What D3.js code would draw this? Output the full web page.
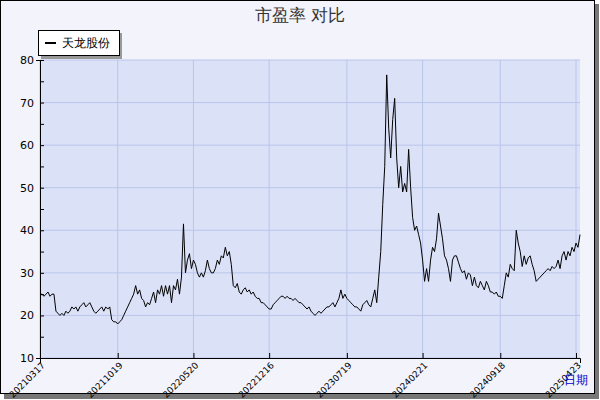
<!DOCTYPE html>
<html><head><meta charset="utf-8">
<script src="https://cdn.jsdelivr.net/npm/d3@7"></script>
<style>body{margin:0;background:#fff}text{font-family:"DejaVu Sans",sans-serif}</style>
</head><body>
<script>
var seriesName = "天龙股份";
var values = [
25,25,24.5,25,25.5,24.5,25,25,21,20.5,20,20.5,20,21,20.5,21,22,21.5,22,21,22,22.5,23,22,22.5,23,22,21,20.5,21,21.5,22,21,22,21.5,22,19,18.5,18.5,
18,18.5,19,20,21,22,23,24,25,27,25,26,24,23.5,22,23,22.5,24,25.5,23,26,25,27,24.5,27,25,27,23,27,26,28.5,25,29,41.5,30,33,34.5,31,33,
32,30,29,30,29,30.5,33,31,30,30,31,33,32,34,33.5,36,34,35,32,27,26.5,27.5,25.5,25,26,26.5,25.5,26,25,25.5,24.5,24,24,23,23,22.5,22,21.5,
21.5,22.5,23,23.5,24,24.5,24.5,24,24.5,24,24,23.5,24,23.5,23,23,22.5,22,21.5,22,21,20.5,20,20.5,21,20.5,21,21.5,22,22,22.5,23,22,23,24,26,24,25,24,
23.5,23,22.5,22,22,21.5,21,22.5,23,23.5,22.5,22,24,26,23,29,35,46,55,
76.5,64,57,66,71,57,50,55,49,51,49,59,50,43,40,41,39,37,33,28,31,28,33,36,35,38,44,41,38,34,33,31,28,33,34,34,32.5,31,30,30.5,28.5,30,29.5,27,29,27,26.5,28,27,26,28,27,25.5,25.5,25,25.5,24.5,24.5,24,27,30,29,32,31,30.5,40,37,35,31.5,34,32,33.5,34,32,30.5,28,28.5,29,29.5,30,30.5,31,30.5,31.5,31,31.5,33,31,34,35,33,35,34,36,35,37,36,39
];
var tickLabels = ["20210317","20211019","20220520","20221216","20230719","20240221","20240918","20250423"];
var tickIdx = [0,39,77,115,154,192,231,269];
var yTicks = [10,20,30,40,50,60,70,80];

var W = 600, H = 400, L = 40, R = 580, T = 60, B = 358;
var svg = d3.select("body").append("svg").attr("width", W).attr("height", H);
svg.append("rect").attr("x", 4).attr("y", 4).attr("width", 595).attr("height", 395).attr("fill", "#777");
svg.append("rect").attr("x", 0.5).attr("y", 0.5).attr("width", 594).attr("height", 393)
  .attr("fill", "#f2f3fb").attr("stroke", "#000");

var x = d3.scaleLinear().domain([0, values.length - 1]).range([L, R]);
var y = d3.scaleLinear().domain([10, 80]).range([B, T]);

svg.append("rect").attr("x", L).attr("y", T).attr("width", R - L).attr("height", B - T).attr("fill", "#dbe1f7");
svg.selectAll(".hg").data(yTicks).enter().append("line")
  .attr("x1", L).attr("x2", R).attr("y1", function(d){return y(d)}).attr("y2", function(d){return y(d)})
  .attr("stroke", "#b9c5ea");
svg.selectAll(".vg").data(tickIdx).enter().append("line")
  .attr("x1", function(d){return x(d)}).attr("x2", function(d){return x(d)}).attr("y1", T).attr("y2", B)
  .attr("stroke", "#b9c5ea");

// axes
var ya = svg.append("g").attr("transform", "translate(" + L + ",0)")
  .call(d3.axisLeft(y).tickValues(d3.range(10, 81, 5)).tickSize(4).tickFormat(function(d){return d % 10 ? "" : d}));
ya.select(".domain").attr("stroke", "#000");
ya.selectAll("line").attr("x2", 4);
ya.selectAll("text").attr("x", -6).style("font-size", "11px");

var xa = svg.append("g").attr("transform", "translate(0," + B + ")")
  .call(d3.axisBottom(x).tickValues(tickIdx).tickSize(5).tickFormat(function(d, i){return tickLabels[i]}));
xa.selectAll("line").attr("y2", -5);
xa.selectAll("text").attr("text-anchor", "end").attr("dy", 0).attr("y", 0)
  .attr("transform", "translate(5,8) rotate(-45)").style("font-size", "9px");

var line = d3.line().x(function(d, i){return x(i)}).y(function(d){return y(d)});
svg.append("path").datum(values).attr("d", line).attr("fill", "none").attr("stroke", "#000").attr("stroke-width", 1);

svg.append("text").attr("x", 300).attr("y", 21).attr("text-anchor", "middle").style("font-size", "17px").attr("fill", "#333").text("市盈率  对比");
svg.append("text").attr("x", 576).attr("y", 384).attr("text-anchor", "middle").style("font-size", "12px").attr("fill", "#00c").text("日期");

// legend
svg.append("rect").attr("x", 41).attr("y", 33).attr("width", 81).attr("height", 26).attr("fill", "#999");
svg.append("rect").attr("x", 38.5).attr("y", 30.5).attr("width", 81).attr("height", 25).attr("fill", "#fff").attr("stroke", "#000");
svg.append("line").attr("x1", 45).attr("x2", 56).attr("y1", 43).attr("y2", 43).attr("stroke", "#000").attr("stroke-width", 2);
svg.append("text").attr("x", 62).attr("y", 47).style("font-size", "12px").text(seriesName);
</script>
</body></html>
